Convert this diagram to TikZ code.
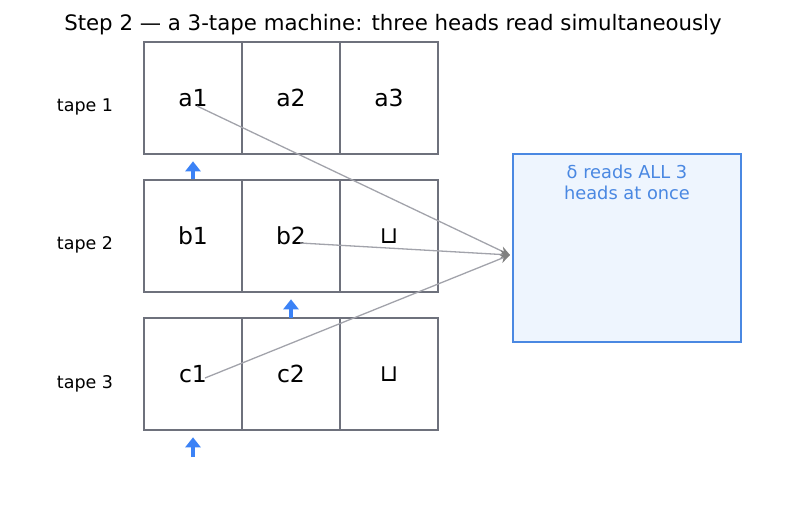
\documentclass[tikz,border=0pt]{standalone}
\usepackage{fontspec}
\setmainfont{DejaVu Sans}
\usetikzlibrary{arrows.meta}
\definecolor{cellgray}{HTML}{6E717C}
\definecolor{headblue}{HTML}{3B82F6}
\definecolor{boxblue}{HTML}{4A88E2}
\definecolor{boxfill}{HTML}{EEF5FE}
\definecolor{linkgray}{HTML}{A2A3AB}
\tikzset{
  cell/.style={draw=cellgray, line width=2.6pt, minimum width=98pt, minimum height=112pt, inner sep=0pt, font=\fontsize{23.5}{28}\selectfont},
  tapelabel/.style={font=\fontsize{17.5}{21}\selectfont},
  headarrow/.style={draw=headblue, line width=3.8pt, -{Triangle[length=10pt,width=15pt]}},
  readlink/.style={draw=linkgray, line width=1.3pt, -{Stealth[length=10pt,width=9pt,color=gray]}},
}
\begin{document}
\begin{tikzpicture}[x=1pt,y=-1pt]
\useasboundingbox (0,0) rectangle (787,508);
\node[font=\fontsize{21.3}{25}\selectfont] (title) at (393,25) {Step 2 — a 3-tape machine: three heads read simultaneously};
% tape 1
\node[cell] (a1) at (193,98) {a1};
\node[cell] (a2) at (291,98) {a2};
\node[cell] (a3) at (389,98) {a3};
% tape 2
\node[cell] (b1) at (193,236) {b1};
\node[cell] (b2) at (291,236) {b2};
\node[cell] (b3) at (389,236) {⊔};
% tape 3
\node[cell] (c1) at (193,374) {c1};
\node[cell] (c2) at (291,374) {c2};
\node[cell] (c3) at (389,374) {⊔};
\node[tapelabel] (t1) at (85,107) {tape 1};
\node[tapelabel] (t2) at (85,245) {tape 2};
\node[tapelabel] (t3) at (85,384) {tape 3};
% heads
\coordinate (h1) at (193,179);
\coordinate (h2) at (291,318);
\coordinate (h3) at (193,457);
\draw[headarrow] (h1) -- ([yshift=-6pt]a1.south);
\draw[headarrow] (h2) -- ([yshift=-6pt]b2.south);
\draw[headarrow] (h3) -- ([yshift=-6pt]c1.south);
% delta box
\node[draw=boxblue, fill=boxfill, line width=1.7pt, minimum width=228pt, minimum height=188pt, inner sep=0pt] (delta) at (627,248) {};
\node[text=boxblue, font=\fontsize{17.8}{21}\selectfont, align=center, anchor=north] (dtext) at (627,161) {δ reads ALL 3\\heads at once};
% read links
\coordinate (sa) at (197,106);
\coordinate (sb) at (300,243);
\coordinate (sc) at (205,378);
\coordinate (tgt) at (510,255);
\draw[readlink] (sa) -- (tgt);
\draw[readlink] (sb) -- (tgt);
\draw[readlink] (sc) -- (tgt);
\end{tikzpicture}
\end{document}
